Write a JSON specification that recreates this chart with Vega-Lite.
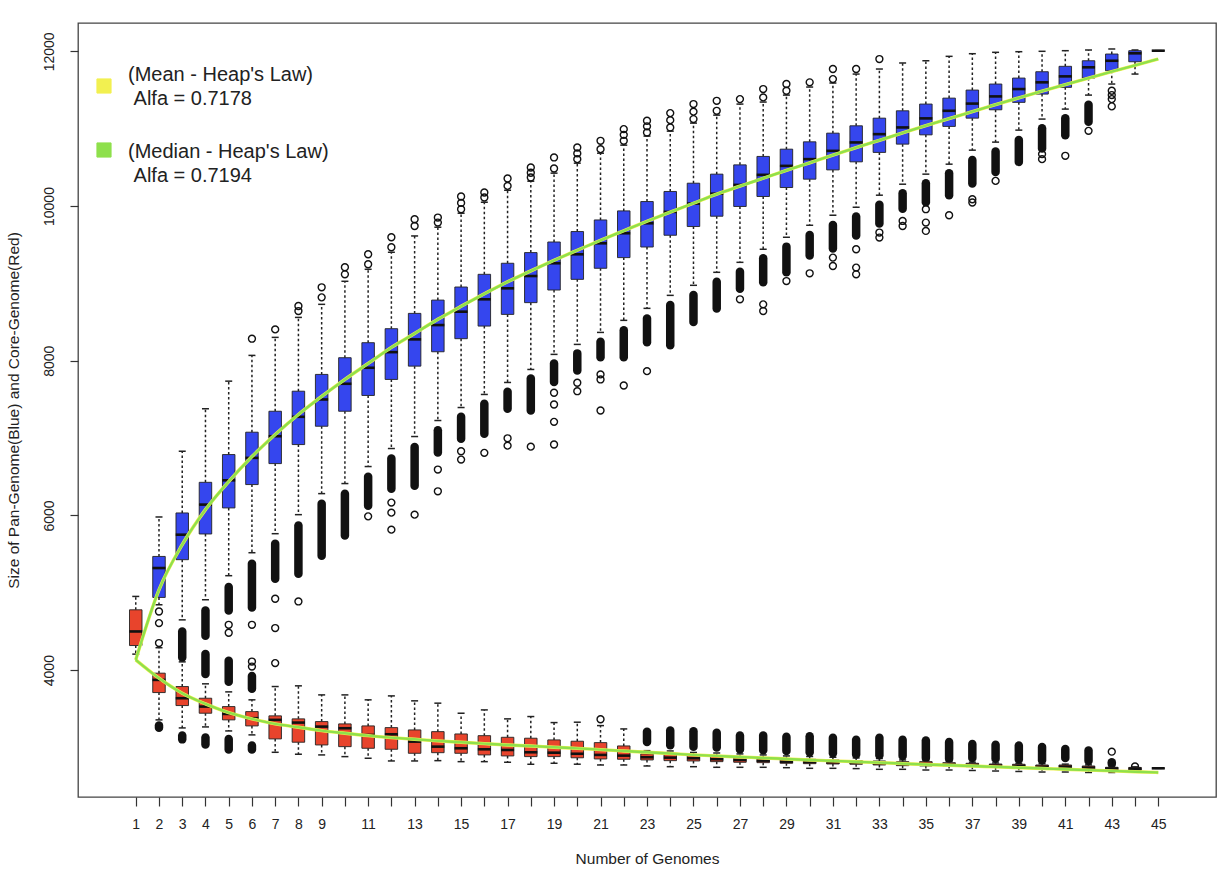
{
"$schema": "https://vega.github.io/schema/vega-lite/v6.json",
"width": 1138, "height": 774,
"autosize": {"type": "none"},
"padding": {"left": 78, "top": 23, "right": 13, "bottom": 89},
"background": "#ffffff",
"config": {
  "font": "Liberation Sans",
  "view": {"stroke": "#444", "strokeWidth": 1.3},
  "style": {"guide-label": {"lineHeight": 24}},
  "axis": {"grid": false, "domain": false, "labelFontSize": 14, "labelColor": "#222", "tickColor": "#333", "tickWidth": 1.2, "titleFontSize": 15.5, "titleFontWeight": "normal", "titleColor": "#222", "labelFont": "Liberation Sans", "titleFont": "Liberation Sans"},
  "legend": {"orient": "none", "legendX": 16, "legendY": 53, "padding": 0, "rowPadding": 31, "symbolType": "square", "symbolSize": 200, "symbolStrokeColor": "#000", "symbolStrokeWidth": 1, "labelOffset": 14, "labelFontSize": 20, "labelColor": "#222", "labelLimit": 0}
},
"datasets": {
"box": [
{"n":1,"s":"core","lw":4207,"q1":4318,"med":4500,"q3":4780,"uw":4953},
{"n":2,"s":"pan","lw":4845,"q1":4940,"med":5320,"q3":5470,"uw":5980},
{"n":3,"s":"pan","lw":4650,"q1":5428,"med":5751,"q3":6032,"uw":6830},
{"n":4,"s":"pan","lw":4910,"q1":5760,"med":6140,"q3":6428,"uw":7379},
{"n":5,"s":"pan","lw":5221,"q1":6097,"med":6454,"q3":6787,"uw":7736},
{"n":6,"s":"pan","lw":5518,"q1":6399,"med":6744,"q3":7076,"uw":8069},
{"n":7,"s":"pan","lw":5764,"q1":6670,"med":7024,"q3":7347,"uw":8302},
{"n":8,"s":"pan","lw":6010,"q1":6916,"med":7275,"q3":7606,"uw":8560},
{"n":9,"s":"pan","lw":6282,"q1":7153,"med":7499,"q3":7823,"uw":8729},
{"n":10,"s":"pan","lw":6412,"q1":7347,"med":7702,"q3":8039,"uw":9027},
{"n":11,"s":"pan","lw":6632,"q1":7551,"med":7909,"q3":8233,"uw":9182},
{"n":12,"s":"pan","lw":6865,"q1":7758,"med":8111,"q3":8414,"uw":9402},
{"n":13,"s":"pan","lw":7020,"q1":7930,"med":8276,"q3":8612,"uw":9613},
{"n":14,"s":"pan","lw":7227,"q1":8116,"med":8461,"q3":8784,"uw":9726},
{"n":15,"s":"pan","lw":7395,"q1":8285,"med":8634,"q3":8953,"uw":9907},
{"n":16,"s":"pan","lw":7564,"q1":8448,"med":8794,"q3":9117,"uw":10049},
{"n":17,"s":"pan","lw":7719,"q1":8599,"med":8936,"q3":9260,"uw":10204},
{"n":18,"s":"pan","lw":7887,"q1":8751,"med":9095,"q3":9398,"uw":10321},
{"n":19,"s":"pan","lw":8082,"q1":8914,"med":9260,"q3":9535,"uw":10425},
{"n":20,"s":"pan","lw":8211,"q1":9052,"med":9376,"q3":9670,"uw":10554},
{"n":21,"s":"pan","lw":8366,"q1":9195,"med":9518,"q3":9820,"uw":10683},
{"n":22,"s":"pan","lw":8522,"q1":9333,"med":9648,"q3":9937,"uw":10787},
{"n":23,"s":"pan","lw":8677,"q1":9470,"med":9777,"q3":10058,"uw":10904},
{"n":24,"s":"pan","lw":8845,"q1":9622,"med":9924,"q3":10188,"uw":10968},
{"n":25,"s":"pan","lw":8975,"q1":9735,"med":10032,"q3":10295,"uw":11072},
{"n":26,"s":"pan","lw":9143,"q1":9868,"med":10159,"q3":10412,"uw":11175},
{"n":27,"s":"pan","lw":9272,"q1":9994,"med":10273,"q3":10532,"uw":11318},
{"n":28,"s":"pan","lw":9441,"q1":10123,"med":10403,"q3":10641,"uw":11344},
{"n":29,"s":"pan","lw":9596,"q1":10239,"med":10519,"q3":10735,"uw":11434},
{"n":30,"s":"pan","lw":9751,"q1":10347,"med":10606,"q3":10830,"uw":11538},
{"n":31,"s":"pan","lw":9881,"q1":10467,"med":10713,"q3":10942,"uw":11590},
{"n":32,"s":"pan","lw":9984,"q1":10571,"med":10822,"q3":11037,"uw":11706},
{"n":33,"s":"pan","lw":10140,"q1":10693,"med":10929,"q3":11136,"uw":11771},
{"n":34,"s":"pan","lw":10282,"q1":10800,"med":11016,"q3":11231,"uw":11849},
{"n":35,"s":"pan","lw":10412,"q1":10920,"med":11133,"q3":11318,"uw":11878},
{"n":36,"s":"pan","lw":10541,"q1":11029,"med":11231,"q3":11395,"uw":11935},
{"n":37,"s":"pan","lw":10722,"q1":11136,"med":11324,"q3":11499,"uw":11969},
{"n":38,"s":"pan","lw":10826,"q1":11244,"med":11417,"q3":11577,"uw":11987},
{"n":39,"s":"pan","lw":10981,"q1":11340,"med":11512,"q3":11654,"uw":11995},
{"n":40,"s":"pan","lw":11124,"q1":11447,"med":11599,"q3":11736,"uw":12000},
{"n":41,"s":"pan","lw":11253,"q1":11534,"med":11676,"q3":11806,"uw":12008},
{"n":42,"s":"pan","lw":11434,"q1":11654,"med":11793,"q3":11878,"uw":12017},
{"n":43,"s":"pan","lw":11577,"q1":11749,"med":11878,"q3":11965,"uw":12030},
{"n":44,"s":"pan","lw":11706,"q1":11865,"med":11974,"q3":12008,"uw":12017},
{"n":45,"s":"pan","lw":12008,"q1":12008,"med":12008,"q3":12008,"uw":12008},
{"n":2,"s":"core","lw":3357,"q1":3710,"med":3874,"q3":3961,"uw":4290},
{"n":3,"s":"core","lw":3253,"q1":3542,"med":3637,"q3":3788,"uw":4107},
{"n":4,"s":"core","lw":3266,"q1":3443,"med":3529,"q3":3637,"uw":3823},
{"n":5,"s":"core","lw":3214,"q1":3357,"med":3434,"q3":3529,"uw":3719},
{"n":6,"s":"core","lw":3163,"q1":3279,"med":3379,"q3":3464,"uw":3616},
{"n":7,"s":"core","lw":2938,"q1":3111,"med":3357,"q3":3409,"uw":3788},
{"n":8,"s":"core","lw":2913,"q1":3068,"med":3322,"q3":3370,"uw":3797},
{"n":9,"s":"core","lw":2904,"q1":3033,"med":3270,"q3":3335,"uw":3680},
{"n":10,"s":"core","lw":2882,"q1":3011,"med":3249,"q3":3305,"uw":3680},
{"n":11,"s":"core","lw":2861,"q1":2990,"med":3162,"q3":3279,"uw":3616},
{"n":12,"s":"core","lw":2826,"q1":2977,"med":3171,"q3":3257,"uw":3667},
{"n":13,"s":"core","lw":2826,"q1":2925,"med":3076,"q3":3227,"uw":3603},
{"n":14,"s":"core","lw":2830,"q1":2933,"med":3011,"q3":3205,"uw":3573},
{"n":15,"s":"core","lw":2817,"q1":2925,"med":2990,"q3":3175,"uw":3443},
{"n":16,"s":"core","lw":2817,"q1":2904,"med":2977,"q3":3153,"uw":3486},
{"n":17,"s":"core","lw":2809,"q1":2891,"med":2968,"q3":3132,"uw":3370},
{"n":18,"s":"core","lw":2783,"q1":2882,"med":2938,"q3":3120,"uw":3400},
{"n":19,"s":"core","lw":2796,"q1":2882,"med":2933,"q3":3098,"uw":3322},
{"n":20,"s":"core","lw":2784,"q1":2867,"med":2919,"q3":3081,"uw":3327},
{"n":21,"s":"core","lw":2774,"q1":2852,"med":2904,"q3":3063,"uw":3283},
{"n":22,"s":"core","lw":2774,"q1":2848,"med":2895,"q3":3020,"uw":3240},
{"n":23,"s":"core","lw":2761,"q1":2839,"med":2874,"q3":2917,"uw":2959},
{"n":24,"s":"core","lw":2752,"q1":2830,"med":2869,"q3":2913,"uw":2955},
{"n":25,"s":"core","lw":2752,"q1":2826,"med":2861,"q3":2895,"uw":2936},
{"n":26,"s":"core","lw":2744,"q1":2817,"med":2848,"q3":2887,"uw":2929},
{"n":27,"s":"core","lw":2744,"q1":2809,"med":2839,"q3":2874,"uw":2917},
{"n":28,"s":"core","lw":2744,"q1":2804,"med":2830,"q3":2861,"uw":2904},
{"n":29,"s":"core","lw":2739,"q1":2796,"med":2817,"q3":2852,"uw":2891},
{"n":30,"s":"core","lw":2731,"q1":2791,"med":2813,"q3":2848,"uw":2884},
{"n":31,"s":"core","lw":2731,"q1":2787,"med":2809,"q3":2839,"uw":2874},
{"n":32,"s":"core","lw":2727,"q1":2783,"med":2804,"q3":2830,"uw":2865},
{"n":33,"s":"core","lw":2718,"q1":2774,"med":2796,"q3":2826,"uw":2858},
{"n":34,"s":"core","lw":2718,"q1":2765,"med":2787,"q3":2817,"uw":2839},
{"n":35,"s":"core","lw":2709,"q1":2761,"med":2787,"q3":2817,"uw":2830},
{"n":36,"s":"core","lw":2709,"q1":2761,"med":2780,"q3":2804,"uw":2820},
{"n":37,"s":"core","lw":2703,"q1":2752,"med":2774,"q3":2796,"uw":2810},
{"n":38,"s":"core","lw":2696,"q1":2744,"med":2765,"q3":2787,"uw":2800},
{"n":39,"s":"core","lw":2690,"q1":2739,"med":2761,"q3":2783,"uw":2795},
{"n":40,"s":"core","lw":2683,"q1":2731,"med":2752,"q3":2774,"uw":2790},
{"n":41,"s":"core","lw":2683,"q1":2731,"med":2752,"q3":2774,"uw":2785},
{"n":42,"s":"core","lw":2677,"q1":2718,"med":2739,"q3":2761,"uw":2775},
{"n":43,"s":"core","lw":2677,"q1":2709,"med":2728,"q3":2744,"uw":2760},
{"n":44,"s":"core","lw":2690,"q1":2706,"med":2726,"q3":2742,"uw":2750},
{"n":45,"s":"core","lw":2731,"q1":2731,"med":2731,"q3":2731,"uw":2731}
],
"blob": [
{"n":3,"lo":4165,"hi":4500},{"n":4,"lo":4445,"hi":4770},{"n":4,"lo":3950,"hi":4210},
{"n":5,"lo":4770,"hi":5075},{"n":5,"lo":3850,"hi":4120},{"n":6,"lo":4810,"hi":5375},{"n":6,"lo":3760,"hi":3925},
{"n":7,"lo":5180,"hi":5635},{"n":8,"lo":5245,"hi":5870},{"n":9,"lo":5480,"hi":6150},{"n":10,"lo":5740,"hi":6280},
{"n":11,"lo":6125,"hi":6500},{"n":12,"lo":6345,"hi":6735},{"n":13,"lo":6385,"hi":6885},{"n":14,"lo":6815,"hi":7100},
{"n":15,"lo":6990,"hi":7275},{"n":16,"lo":7055,"hi":7445},{"n":17,"lo":7380,"hi":7600},{"n":18,"lo":7355,"hi":7770},
{"n":19,"lo":7725,"hi":7965},{"n":20,"lo":7875,"hi":8095},{"n":21,"lo":8045,"hi":8245},{"n":22,"lo":8045,"hi":8395},
{"n":23,"lo":8240,"hi":8545},{"n":24,"lo":8200,"hi":8720},{"n":25,"lo":8500,"hi":8850},{"n":26,"lo":8675,"hi":9020},
{"n":27,"lo":8930,"hi":9150},{"n":28,"lo":9015,"hi":9325},{"n":29,"lo":9145,"hi":9475},{"n":30,"lo":9360,"hi":9625},
{"n":31,"lo":9450,"hi":9755},{"n":32,"lo":9620,"hi":9865},{"n":33,"lo":9775,"hi":10015},{"n":34,"lo":9965,"hi":10165},
{"n":35,"lo":10050,"hi":10295},{"n":36,"lo":10140,"hi":10425},{"n":37,"lo":10290,"hi":10595},{"n":38,"lo":10440,"hi":10705},
{"n":39,"lo":10570,"hi":10855},{"n":40,"lo":10745,"hi":11005},{"n":41,"lo":10915,"hi":11135},{"n":42,"lo":11090,"hi":11310},
{"n":2,"lo":3255,"hi":3285},{"n":3,"lo":3105,"hi":3155},{"n":4,"lo":3040,"hi":3130},{"n":5,"lo":2975,"hi":3110},{"n":6,"lo":2975,"hi":3025},
{"n":23,"lo":3070,"hi":3205},{"n":24,"lo":3030,"hi":3220},{"n":25,"lo":3010,"hi":3210},{"n":26,"lo":3000,"hi":3190},
{"n":27,"lo":2975,"hi":3155},{"n":28,"lo":2965,"hi":3155},{"n":29,"lo":2955,"hi":3140},{"n":30,"lo":2940,"hi":3145},
{"n":31,"lo":2925,"hi":3125},{"n":32,"lo":2910,"hi":3100},{"n":33,"lo":2900,"hi":3125},{"n":34,"lo":2890,"hi":3100},
{"n":35,"lo":2865,"hi":3090},{"n":36,"lo":2855,"hi":3070},{"n":37,"lo":2865,"hi":3045},{"n":38,"lo":2855,"hi":3035},
{"n":39,"lo":2845,"hi":3025},{"n":40,"lo":2835,"hi":3005},{"n":41,"lo":2865,"hi":2980},{"n":42,"lo":2825,"hi":2960},
{"n":43,"lo":2790,"hi":2810}
],
"pt": [
{"n":2,"v":4758},{"n":2,"v":4608},{"n":2,"v":4350},
{"n":5,"v":4586},{"n":5,"v":4483},
{"n":6,"v":4586},{"n":6,"v":4111},{"n":6,"v":4046},{"n":6,"v":8285},
{"n":7,"v":4923},{"n":7,"v":4544},{"n":7,"v":4091},{"n":7,"v":8405},
{"n":8,"v":4888},{"n":8,"v":8707},{"n":8,"v":8642},
{"n":9,"v":8949},{"n":9,"v":8819},
{"n":10,"v":9208},{"n":10,"v":9117},
{"n":11,"v":5988},{"n":11,"v":9376},{"n":11,"v":9247},
{"n":12,"v":6166},{"n":12,"v":6036},{"n":12,"v":5816},{"n":12,"v":9596},{"n":12,"v":9467},
{"n":13,"v":6010},{"n":13,"v":9829},{"n":13,"v":9742},
{"n":14,"v":6593},{"n":14,"v":6312},{"n":14,"v":9851},{"n":14,"v":9786},
{"n":15,"v":6830},{"n":15,"v":6722},{"n":15,"v":10123},{"n":15,"v":10040},{"n":15,"v":9959},
{"n":16,"v":6809},{"n":16,"v":10175},{"n":16,"v":10110},
{"n":17,"v":6997},{"n":17,"v":6902},{"n":17,"v":10356},{"n":17,"v":10260},
{"n":18,"v":6889},{"n":18,"v":10498},{"n":18,"v":10430},{"n":18,"v":10369},
{"n":19,"v":7586},{"n":19,"v":7434},{"n":19,"v":7210},{"n":19,"v":6917},{"n":19,"v":10628},{"n":19,"v":10485},
{"n":20,"v":7715},{"n":20,"v":7606},{"n":20,"v":10757},{"n":20,"v":10680},{"n":20,"v":10606},
{"n":21,"v":7823},{"n":21,"v":7758},{"n":21,"v":7357},{"n":21,"v":10843},{"n":21,"v":10735},{"n":21,"v":3365},
{"n":22,"v":7680},{"n":22,"v":10994},{"n":22,"v":10920},{"n":22,"v":10843},
{"n":23,"v":7865},{"n":23,"v":11102},{"n":23,"v":11030},{"n":23,"v":10951},
{"n":24,"v":11201},{"n":24,"v":11110},{"n":24,"v":11016},
{"n":25,"v":11318},{"n":25,"v":11220},{"n":25,"v":11124},
{"n":26,"v":11360},{"n":26,"v":11231},
{"n":27,"v":8794},{"n":27,"v":11382},
{"n":28,"v":8729},{"n":28,"v":8642},{"n":28,"v":11512},{"n":28,"v":11404},
{"n":29,"v":9030},{"n":29,"v":11577},{"n":29,"v":11490},
{"n":30,"v":9130},{"n":30,"v":11599},
{"n":31,"v":9333},{"n":31,"v":9225},{"n":31,"v":11771},{"n":31,"v":11641},
{"n":32,"v":9441},{"n":32,"v":9204},{"n":32,"v":9117},{"n":32,"v":11771},
{"n":33,"v":9657},{"n":33,"v":9592},{"n":33,"v":11900},
{"n":34,"v":9807},{"n":34,"v":9742},
{"n":35,"v":9959},{"n":35,"v":9786},{"n":35,"v":9678},
{"n":36,"v":9881},
{"n":37,"v":10088},{"n":37,"v":10045},
{"n":38,"v":10325},
{"n":40,"v":10671},{"n":40,"v":10606},
{"n":41,"v":10649},
{"n":42,"v":10972},
{"n":43,"v":11490},{"n":43,"v":11434},{"n":43,"v":11382},{"n":43,"v":11288},{"n":43,"v":2946},
{"n":44,"v":2755}
],
"fit": [
{"n":1,"pan":4133,"core":4133},{"n":2,"pan":5039,"core":3896},{"n":3,"pan":5622,"core":3702},{"n":4,"pan":6075,"core":3564},
{"n":5,"pan":6438,"core":3451},{"n":6,"pan":6761,"core":3370},{"n":7,"pan":7046,"core":3305},{"n":8,"pan":7305,"core":3262},
{"n":9,"pan":7538,"core":3218},{"n":10,"pan":7758,"core":3184},{"n":11,"pan":7965,"core":3153},{"n":12,"pan":8172,"core":3128},
{"n":13,"pan":8353,"core":3107},{"n":14,"pan":8535,"core":3085},{"n":15,"pan":8703,"core":3068},{"n":16,"pan":8865,"core":3050},
{"n":17,"pan":9020,"core":3033},{"n":18,"pan":9162,"core":3020},{"n":19,"pan":9298,"core":3003},{"n":20,"pan":9428,"core":2989},
{"n":21,"pan":9557,"core":2972},{"n":22,"pan":9680,"core":2955},{"n":23,"pan":9803,"core":2938},{"n":24,"pan":9920,"core":2922},
{"n":25,"pan":10036,"core":2904},{"n":26,"pan":10153,"core":2891},{"n":27,"pan":10256,"core":2878},{"n":28,"pan":10359,"core":2865},
{"n":29,"pan":10460,"core":2852},{"n":30,"pan":10559,"core":2839},{"n":31,"pan":10658,"core":2827},{"n":32,"pan":10755,"core":2815},
{"n":33,"pan":10850,"core":2804},{"n":34,"pan":10945,"core":2792},{"n":35,"pan":11038,"core":2780},{"n":36,"pan":11130,"core":2770},
{"n":37,"pan":11221,"core":2760},{"n":38,"pan":11310,"core":2749},{"n":39,"pan":11398,"core":2739},{"n":40,"pan":11485,"core":2729},
{"n":41,"pan":11570,"core":2718},{"n":42,"pan":11654,"core":2708},{"n":43,"pan":11737,"core":2698},{"n":44,"pan":11819,"core":2687},
{"n":45,"pan":11900,"core":2677}
]
},
"encoding": {
  "x": {"field": "n", "type": "quantitative",
    "scale": {"domain": [-1.27, 47.27], "nice": false, "zero": false},
    "axis": {"title": "Number of Genomes", "values": [1,2,3,4,5,6,7,8,9,10,11,12,13,14,15,16,17,18,19,20,21,22,23,24,25,26,27,28,29,30,31,32,33,34,35,36,37,38,39,40,41,42,43,44,45],
      "format": "d", "labelExpr": "datum.value <= 9 || datum.value % 2 == 1 ? datum.label : ''",
      "labelOverlap": false, "labelFlush": false, "tickSize": 9, "labelPadding": 11, "titlePadding": 20}}
},
"layer": [
  {"data": {"name": "fit"},
   "transform": [{"filter": "datum.n < 0"}],
   "mark": {"type": "square", "stroke": "#000", "strokeWidth": 1, "filled": true, "opacity": 1},
   "encoding": {
     "y": {"field": "pan", "type": "quantitative", "title": "Size of Pan-Genome(Blue) and Core-Genome(Red)",
       "scale": {"domain": [2360, 12366], "nice": false, "zero": false},
       "axis": {"title": "Size of Pan-Genome(Blue) and Core-Genome(Red)", "values": [4000, 6000, 8000, 10000, 12000], "format": "d",
         "labelAngle": 270, "labelAlign": "center", "labelBaseline": "bottom", "labelPadding": 14, "tickSize": 8, "titlePadding": 21,
         "labelOverlap": false, "labelFlush": false}},
     "color": {"datum": "(Mean - Heap's Law)|\u200b\u00a0Alfa = 0.7178", "type": "nominal",
       "scale": {"domain": ["(Mean - Heap's Law)|\u200b\u00a0Alfa = 0.7178", "(Median - Heap's Law)|\u200b\u00a0Alfa = 0.7194"], "range": ["#f2f050", "#8ee04c"]},
       "legend": {"title": null, "labelExpr": "split(datum.label, '|')", "encode": {"labels": {"update": {"dy": {"signal": "indexof(datum.value, 'Mean') >= 0 ? -11 : 2"}}}}}}}},
  {"data": {"name": "box"},
   "mark": {"type": "rule", "strokeDash": [2.5, 2.5], "strokeWidth": 1.5, "color": "#222"},
   "encoding": {"y": {"field": "q3", "type": "quantitative", "title": "Size of Pan-Genome(Blue) and Core-Genome(Red)"}, "y2": {"field": "uw"}}},
  {"data": {"name": "box"},
   "mark": {"type": "rule", "strokeDash": [2.5, 2.5], "strokeWidth": 1.5, "color": "#222"},
   "encoding": {"y": {"field": "q1", "type": "quantitative", "title": "Size of Pan-Genome(Blue) and Core-Genome(Red)"}, "y2": {"field": "lw"}}},
  {"data": {"name": "box"},
   "mark": {"type": "tick", "orient": "horizontal", "size": 7, "thickness": 1.5, "color": "#222", "opacity": 1},
   "encoding": {"y": {"field": "uw", "type": "quantitative", "title": "Size of Pan-Genome(Blue) and Core-Genome(Red)"}}},
  {"data": {"name": "box"},
   "mark": {"type": "tick", "orient": "horizontal", "size": 7, "thickness": 1.5, "color": "#222", "opacity": 1},
   "encoding": {"y": {"field": "lw", "type": "quantitative", "title": "Size of Pan-Genome(Blue) and Core-Genome(Red)"}}},
  {"data": {"name": "blob"},
   "mark": {"type": "rule", "strokeWidth": 8.5, "strokeCap": "round", "color": "#111"},
   "encoding": {"y": {"field": "lo", "type": "quantitative", "title": "Size of Pan-Genome(Blue) and Core-Genome(Red)"}, "y2": {"field": "hi"}}},
  {"data": {"name": "pt"},
   "mark": {"type": "point", "shape": "circle", "filled": false, "stroke": "#111", "strokeWidth": 1.4, "size": 48, "opacity": 1},
   "encoding": {"y": {"field": "v", "type": "quantitative", "title": "Size of Pan-Genome(Blue) and Core-Genome(Red)"}}},
  {"data": {"name": "box"},
   "mark": {"type": "bar", "size": 12.5, "stroke": "#222", "strokeWidth": 0.9},
   "encoding": {
     "y": {"field": "q1", "type": "quantitative", "title": "Size of Pan-Genome(Blue) and Core-Genome(Red)"}, "y2": {"field": "q3"},
     "fill": {"field": "s", "type": "nominal", "scale": {"domain": ["pan", "core"], "range": ["#3546ee", "#e8442c"]}, "legend": null}}},
  {"data": {"name": "box"},
   "mark": {"type": "tick", "orient": "horizontal", "size": 13, "thickness": 2.6, "color": "#111", "opacity": 1},
   "encoding": {"y": {"field": "med", "type": "quantitative", "title": "Size of Pan-Genome(Blue) and Core-Genome(Red)"}}},
  {"data": {"name": "fit"},
   "transform": [{"fold": ["pan", "core"], "as": ["curve", "v"]}],
   "mark": {"type": "line", "strokeWidth": 3.4, "interpolate": "monotone"},
   "encoding": {
     "y": {"field": "v", "type": "quantitative", "title": "Size of Pan-Genome(Blue) and Core-Genome(Red)"},
     "detail": {"field": "curve", "type": "nominal"},
     "color": {"datum": "(Mean - Heap's Law)|\u200b\u00a0Alfa = 0.7178", "type": "nominal",
       "legend": {"title": null, "labelExpr": "split(datum.label, '|')", "encode": {"labels": {"update": {"dy": {"signal": "indexof(datum.value, 'Mean') >= 0 ? -11 : 2"}}}}}}}},
  {"data": {"name": "fit"},
   "transform": [{"fold": ["pan", "core"], "as": ["curve", "v"]}],
   "mark": {"type": "line", "strokeWidth": 2.4, "interpolate": "monotone"},
   "encoding": {
     "y": {"field": "v", "type": "quantitative", "title": "Size of Pan-Genome(Blue) and Core-Genome(Red)"},
     "detail": {"field": "curve", "type": "nominal"},
     "color": {"datum": "(Median - Heap's Law)|\u200b\u00a0Alfa = 0.7194", "type": "nominal",
       "legend": {"title": null, "labelExpr": "split(datum.label, '|')", "encode": {"labels": {"update": {"dy": {"signal": "indexof(datum.value, 'Mean') >= 0 ? -11 : 2"}}}}}}}}
]
}
